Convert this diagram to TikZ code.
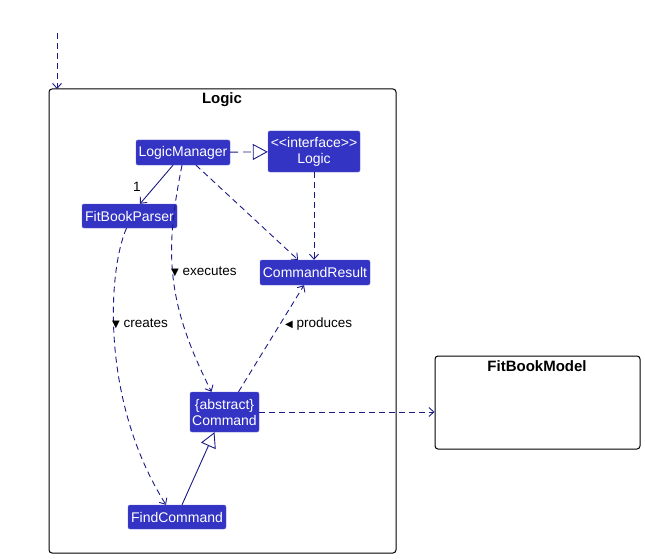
\documentclass[tikz,border=0pt]{standalone}
\usepackage{fontspec}
\setmainfont{Liberation Sans}
\newfontfamily\symfont{DejaVu Sans}
\usetikzlibrary{arrows.meta, positioning}
\definecolor{clsblue}{HTML}{3333C4}
\definecolor{navy}{HTML}{1A1A86}

\begin{document}
\begin{tikzpicture}[x=1pt, y=-1pt,
  >={Straight Barb[length=5pt, width=9pt]},
  cls/.style={fill=clsblue, draw=clsblue!80!white, rounded corners=2pt, text=white,
    font=\fontsize{14}{16}\selectfont, inner sep=0pt, align=center},
  pkg/.style={draw=black, line width=1pt, rounded corners=3pt},
  dep/.style={navy, line width=0.9pt, dash pattern=on 6pt off 4pt, ->},
  assoc/.style={navy, line width=0.9pt, ->},
  lbl/.style={font=\fontsize{13.5}{15}\selectfont, text=black, anchor=west, inner sep=0pt},
  ptitle/.style={font=\fontsize{15}{17}\selectfont\bfseries},
]

\useasboundingbox (0,0) rectangle (645,559);

% === Packages ===
\draw[pkg] (49,89) rectangle (396,553);
\node[ptitle] (logictitle) at (222,99.5) {Logic};
\coordinate (entry) at (57,33);
\coordinate (logictop) at (57,89);

\node[pkg, minimum width=205pt, minimum height=93pt, inner sep=0pt] (fitbookmodel) at (537.5,402.5) {};
\node[ptitle] (modeltitle) at (537,366.5) {FitBookModel};

% === Classes ===
\node[cls, minimum width=94pt, minimum height=25pt] (logicmanager) at (183,152.5) {LogicManager};
\node[cls, minimum width=92pt, minimum height=41pt] (logic) at (314,151.5)
  {<\kern0pt<interface>\kern0pt>\\Logic};
\node[cls, minimum width=95pt, minimum height=24pt] (fitbookparser) at (129.5,216) {FitBookParser};
\node[cls, minimum width=110pt, minimum height=25pt] (commandresult) at (315,272.5) {CommandResult};
\node[cls, minimum width=69pt, minimum height=40pt] (command) at (224.5,412) {\{abstract\}\\Command};
\node[cls, minimum width=98pt, minimum height=24pt] (findcommand) at (177,517) {FindCommand};

% === Connectors ===
\draw[dep] (entry) -- (logictop);

\draw[navy, line width=0.9pt, dash pattern=on 8pt off 5pt, -{Triangle[open, length=15pt, width=16pt]}]
  (logicmanager) -- (logic);
\draw[assoc] ([xshift=-10pt]logicmanager.south) -- ([xshift=10.5pt]fitbookparser.north)
  node[pos=0.55, lbl, anchor=center, xshift=-18pt] (multlbl) {1};
\draw[dep] ([xshift=13pt]logicmanager.south) -- ([xshift=-17pt]commandresult.north);
\draw[dep] (logic.south) -- (logic.south |- commandresult.north);

\draw[dep] ([xshift=-1pt]logicmanager.south) .. controls (165,250) and (165,300) .. ([xshift=-13pt]command.north);
\draw[dep] ([xshift=-3pt]fitbookparser.south) .. controls (108,270) and (100,400) .. ([xshift=-11pt]findcommand.north);
\draw[dep] ([xshift=14pt]command.north) -- ([xshift=-11pt]commandresult.south);
\draw[dep] (command.east) -- (command.east -| fitbookmodel.west);

\draw[navy, line width=0.9pt, -{Triangle[open, length=15pt, width=16pt]}]
  ([xshift=5pt]findcommand.north) -- ([xshift=-10pt]command.south);

% === Labels ===
\node[lbl] (executeslbl) at (171,272) {{\symfont\fontsize{10}{11}\selectfont ▼}\ executes};
\node[lbl] (createslbl) at (112,324) {{\symfont\fontsize{10}{11}\selectfont ▼}\ creates};
\node[lbl] (produceslbl) at (285,324) {{\symfont\fontsize{10}{11}\selectfont ◀}\ produces};

\end{tikzpicture}
\end{document}
